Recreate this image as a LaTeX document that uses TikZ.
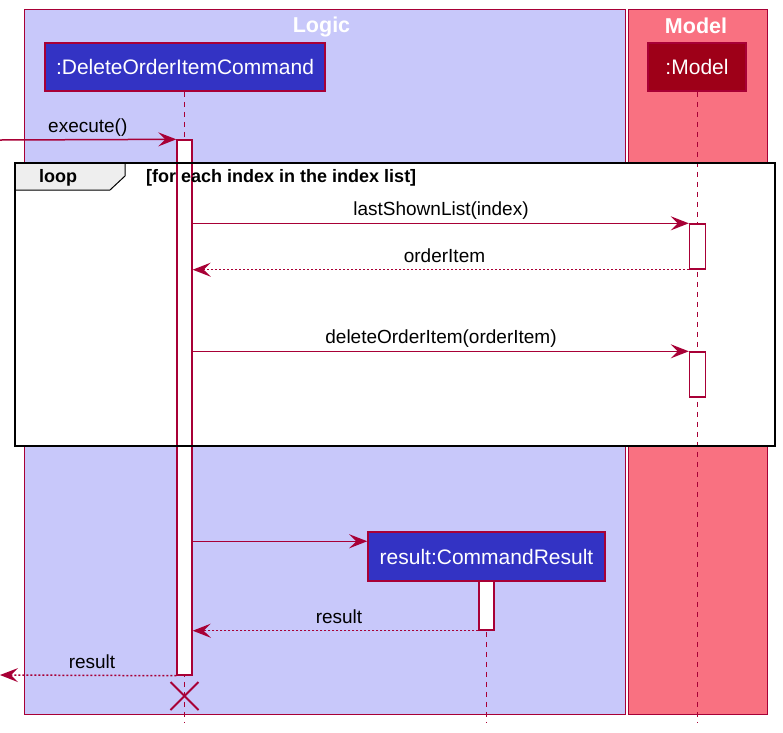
\documentclass[tikz,border=0pt]{standalone}
\usepackage{fontspec}
\setmainfont{Liberation Sans}
\usetikzlibrary{arrows.meta,calc}
\definecolor{pborder}{HTML}{A80036}
\definecolor{logicfill}{HTML}{C8C8FA}
\definecolor{modelfill}{HTML}{F97181}
\definecolor{partblue}{HTML}{3333C4}
\definecolor{partred}{HTML}{9E0018}
\definecolor{tabfill}{HTML}{EEEEEE}
\tikzset{
  boxarea/.style={draw=pborder, line width=1pt},
  boxtitle/.style={text=white, font=\fontsize{21.5}{24}\selectfont\bfseries, inner sep=0pt},
  part/.style={draw=pborder, line width=1.5pt, text=white, inner sep=0pt,
    font=\fontsize{21}{24}\selectfont},
  lifeline/.style={draw=pborder, line width=1.3pt, dash pattern=on 5pt off 5pt},
  actbar/.style={draw=pborder, fill=white, line width=1.4pt, inner sep=0pt, minimum width=15pt},
  msg/.style={draw=pborder, line width=1.5pt, -{Stealth[length=18pt,width=14pt,inset=7pt]}},
  ret/.style={msg, dash pattern=on 2pt off 2pt},
  msglabel/.style={font=\fontsize{19}{22}\selectfont, inner sep=0pt, text=black},
  looplabel/.style={font=\fontsize{18}{21}\selectfont\bfseries, inner sep=0pt, text=black},
}
\begin{document}
\begin{tikzpicture}[x=1pt,y=-1pt]
\useasboundingbox (0,0) rectangle (783,732);
% grouping boxes
\path[boxarea, fill=logicfill] (24,9) rectangle (625,714);
\path[boxarea, fill=modelfill] (628,9) rectangle (767,714);
\node[boxtitle] (logict) at (321.5,27) {Logic};
\node[boxtitle] (modelt) at (696,26) {Model};
% loop interior
\fill[white] (15,163) rectangle (775,446);
% lifelines
\coordinate (l1end) at (184.5,723);
\coordinate (l2end) at (697.5,723);
\coordinate (l3end) at (486.5,723);
\node[part, fill=partblue, minimum width=280pt, minimum height=48pt] (doc) at (185,67) {:DeleteOrderItemCommand};
\node[part, fill=partred, minimum width=98pt, minimum height=48pt] (mod) at (697,67) {:Model};
\node[part, fill=partblue, minimum width=237pt, minimum height=49pt] (cr) at (486.5,556.5) {result:CommandResult};
\draw[lifeline] (doc.south -| l1end) -- (l1end);
\draw[lifeline] (mod.south -| l2end) -- (l2end);
\draw[lifeline] (cr.south -| l3end) -- (l3end);
% redraw participant boxes on top of lifelines
\node[part, fill=partblue, minimum width=280pt, minimum height=48pt] at (doc) {:DeleteOrderItemCommand};
\node[part, fill=partred, minimum width=98pt, minimum height=48pt] at (mod) {:Model};
\node[part, fill=partblue, minimum width=237pt, minimum height=49pt] at (cr) {result:CommandResult};
% activation bars
\node[actbar, minimum height=535pt] (a1) at (184.5,407.5) {};
\node[actbar, minimum width=16pt, minimum height=45pt] (m1) at (697.5,246.5) {};
\node[actbar, minimum width=16pt, minimum height=45pt] (m2) at (697.5,374.5) {};
\node[actbar, minimum height=49pt] (cra) at (486.5,605.5) {};
% loop frame
\draw[black, line width=1pt, fill=tabfill] (15,163) -- (125,163) -- (125,176) -- (110,190) -- (15,190) -- cycle;
\draw[black, line width=2.5pt] (15,163) rectangle (775,446);
\node[looplabel] (looptxt) at (58,178) {loop};
\node[looplabel, anchor=west] (guard) at (146,178) {[for each index in the index list]};
% destroy
\coordinate (xc) at (184.5,696);
\draw[pborder, line width=2pt] ($(xc)+(-14,-14)$) -- ($(xc)+(14,14)$);
\draw[pborder, line width=2pt] ($(xc)+(-14,14)$) -- ($(xc)+(14,-14)$);
% messages
\coordinate (lin) at (0,140);
\coordinate (lout) at (0,675);
\draw[msg] (lin) -- (a1.north west);
\node[msglabel, anchor=west] (m0l) at (48,128) {execute()};
\draw[msg] (a1.east |- m1.north west) -- (m1.north west);
\node[msglabel] (m1l) at (441,211) {lastShownList(index)};
\draw[ret] (m1.south west) -- (a1.east |- m1.south west);
\node[msglabel] (m1r) at (444.5,256) {orderItem};
\draw[msg] (a1.east |- m2.north west) -- (m2.north west);
\node[msglabel] (m2l) at (441,339) {deleteOrderItem(orderItem)};
\coordinate (crin) at ($(cr.north west)+(0,10)$);
\draw[msg] (a1.east |- crin) -- (crin);
\draw[ret] (cra.south west) -- (a1.east |- cra.south west);
\node[msglabel] (crl) at (339,617) {result};
\draw[ret] (a1.south west) -- (lout);
\node[msglabel] (outl) at (92,662) {result};
\end{tikzpicture}
\end{document}
